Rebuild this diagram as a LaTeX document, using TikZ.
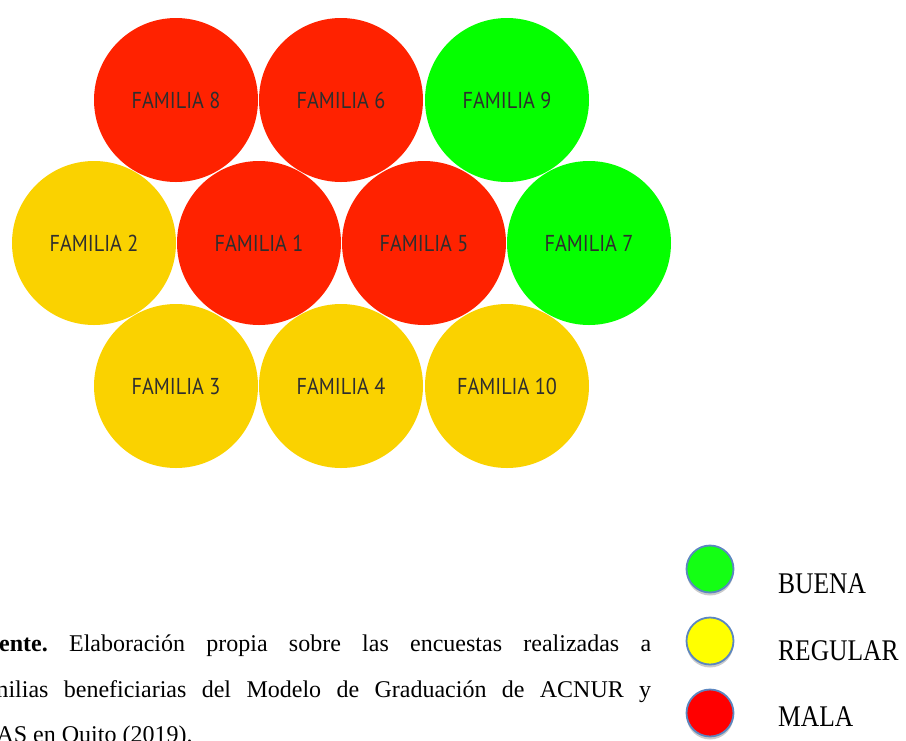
\documentclass[tikz,border=0pt]{standalone}
\usepackage{fontspec}
\setmainfont{Liberation Serif}
\newfontfamily\famfont{PT Sans}
\usetikzlibrary{shadows}
\definecolor{cred}{HTML}{FF2200}
\definecolor{cyellow}{HTML}{FAD200}
\definecolor{cgreen}{HTML}{05FF00}
\definecolor{lgreen}{HTML}{14FF14}
\definecolor{lyellow}{HTML}{FFFF00}
\definecolor{lred}{HTML}{FF0000}
\definecolor{ledge}{HTML}{5B86C0}
\definecolor{famtext}{HTML}{2E2E2E}
\newcommand{\famlab}[1]{\scalebox{0.88}[1]{#1}}
\tikzset{
  fam/.style={circle, minimum size=164pt, inner sep=0pt, draw=none, text=famtext,
    font=\famfont\fontsize{23}{26}\selectfont},
  legcirc/.style={circle, minimum size=47pt, inner sep=0pt, draw=ledge, line width=1.8pt,
    drop shadow={shadow xshift=0pt, shadow yshift=-3pt, opacity=0.35, fill=black!60}},
  leglabel/.style={anchor=base west, inner sep=0pt, font=\fontsize{30}{34}\selectfont},
  srcline/.style={anchor=base west, inner sep=0pt, font=\frenchspacing\fontsize{24}{29}\selectfont}
}
\begin{document}
\begin{tikzpicture}[x=1pt,y=-1pt]
\useasboundingbox (0,0) rectangle (906,740);
\clip (0,0) rectangle (906,740);
% row 1
\node[fam, fill=cred]    (f8)  at (176,100) {\famlab{FAMILIA 8}};
\node[fam, fill=cred]    (f6)  at (341,100) {\famlab{FAMILIA 6}};
\node[fam, fill=cgreen]  (f9)  at (507,100) {\famlab{FAMILIA 9}};
% row 2
\node[fam, fill=cyellow] (f2)  at (94,243)  {\famlab{FAMILIA 2}};
\node[fam, fill=cred]    (f1)  at (259,243) {\famlab{FAMILIA 1}};
\node[fam, fill=cred]    (f5)  at (424,243) {\famlab{FAMILIA 5}};
\node[fam, fill=cgreen]  (f7)  at (589,243) {\famlab{FAMILIA 7}};
% row 3
\node[fam, fill=cyellow] (f3)  at (176,386) {\famlab{FAMILIA 3}};
\node[fam, fill=cyellow] (f4)  at (341,386) {\famlab{FAMILIA 4}};
\node[fam, fill=cyellow] (f10) at (507,386) {\famlab{FAMILIA 10}};
% legend
\node[legcirc, fill=lgreen]  (lg) at (710,569) {};
\node[legcirc, fill=lyellow] (ly) at (710,641) {};
\node[legcirc, fill=lred]    (lr) at (710,713) {};
\node[leglabel] (tb) at (778,593) {\scalebox{0.85}[1]{BUENA}};
\node[leglabel] (tr) at (778,660) {\scalebox{0.85}[1]{REGULAR}};
\node[leglabel] (tm) at (778,726) {\scalebox{0.85}[1]{MALA}};
% source text
\node[srcline] (s1) at (-29,651) {\makebox[680pt][s]{\textbf{Fuente.} Elaboración propia sobre las encuestas realizadas a}};
\node[srcline] (s2) at (-29,697) {\makebox[680pt][s]{familias beneficiarias del Modelo de Graduación de ACNUR y}};
\node[srcline] (s3) at (-29,742) {HIAS en Quito (2019).};
\end{tikzpicture}
\end{document}
